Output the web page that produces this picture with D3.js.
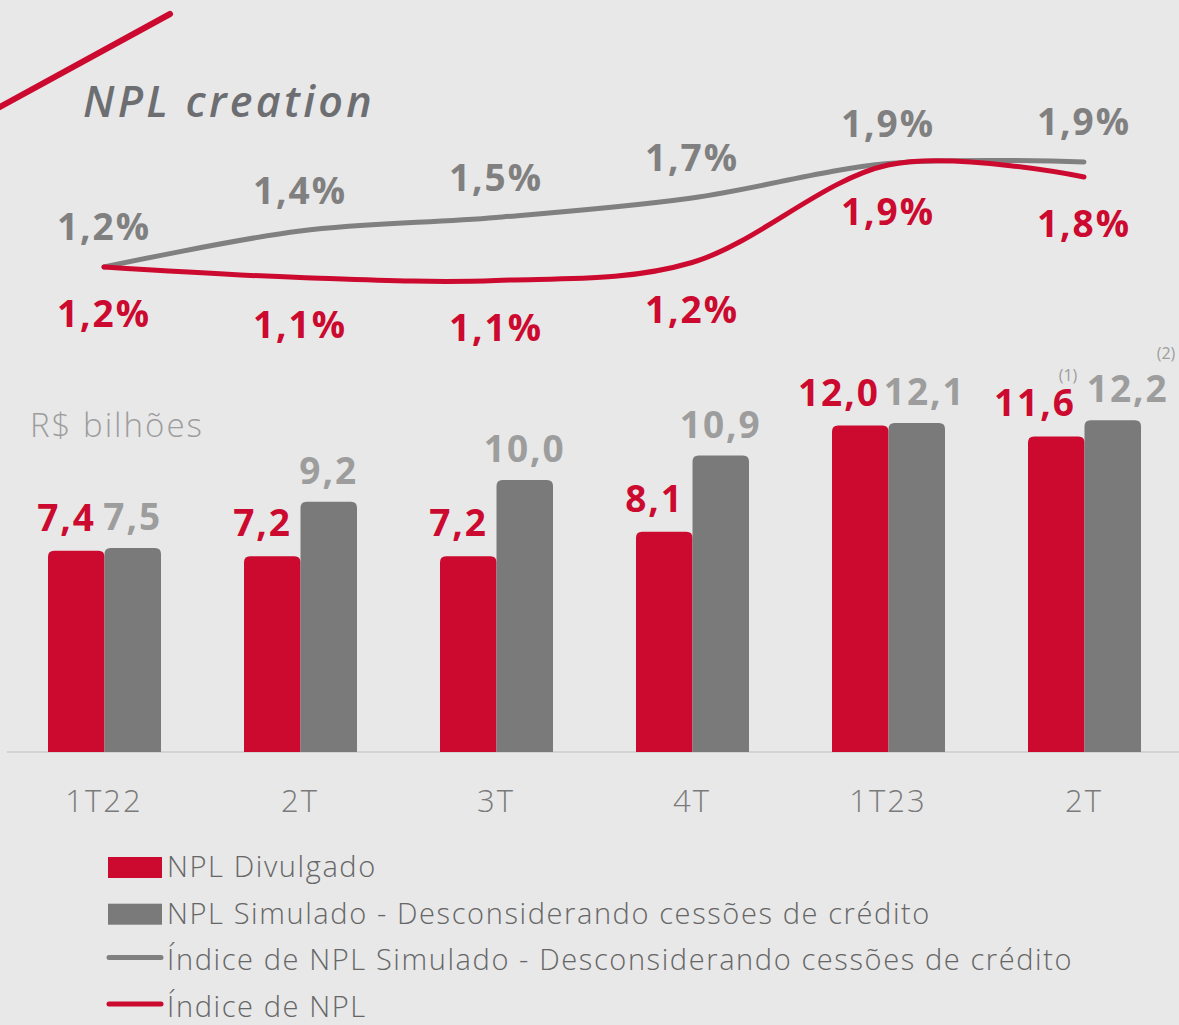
<!DOCTYPE html>
<html>
<head>
<meta charset="utf-8">
<script src="https://cdn.jsdelivr.net/npm/d3@7"></script>
<style>
  body { margin: 0; background: #e8e8e8; }
  svg { display: block; font-family: "Open Sans", sans-serif; }
</style>
</head>
<body>
<svg width="1179" height="1025"></svg>
<script>
// quarters on the x axis
var quarters = ["1T22", "2T", "3T", "4T", "1T23", "2T "];
var quarterLabels = ["1T22", "2T", "3T", "4T", "1T23", "2T"];

// bars, R$ bilhoes
var nplDivulgado = [7.4, 7.2, 7.2, 8.1, 12.0, 11.6];
var nplSimulado = [7.5, 9.2, 10.0, 10.9, 12.1, 12.2];

// ratio lines, % (labels are rounded)
var indiceSimulado = [1.20, 1.44, 1.53, 1.66, 1.89, 1.90];
var indiceNpl = [1.20, 1.13, 1.11, 1.23, 1.88, 1.80];

var red = "#cc0a2f",
    barGray = "#7a7a7a",
    lineGray = "#808080",
    labelGray = "#9d9d9d";

var svg = d3.select("svg");
var fmt = function(v, d) { return v.toFixed(d).replace(".", ","); };

// scales
var x = d3.scaleBand().domain(quarters).range([6, 1182]).padding(0);
var xSub = d3.scaleBand().domain(["div", "sim"]).range([-56, 57]).padding(0);
var yBar = d3.scaleLinear().domain([0, 12]).range([752, 425.6]);
var yLine = d3.scaleLinear().domain([0.5, 2.5]).range([372, 72]);
var cx = function(q) { return x(q) + x.bandwidth() / 2; };

// decoration + title
svg.append("line")
  .attr("x1", -4).attr("y1", 109).attr("x2", 170).attr("y2", 14)
  .attr("stroke", red).attr("stroke-width", 6).attr("stroke-linecap", "round");

svg.append("text")
  .attr("x", 83).attr("y", 117)
  .attr("font-size", 43).attr("font-style", "italic").attr("font-weight", 600)
  .attr("letter-spacing", 3.3)
  .attr("fill", "#6d6e71")
  .text("NPL creation");

// baseline
svg.append("line")
  .attr("x1", 7).attr("x2", 1179).attr("y1", 752).attr("y2", 752)
  .attr("stroke", "#d3d3d3").attr("stroke-width", 2);

// bars with rounded tops
function topRounded(x0, y0, w, h, r) {
  return "M" + x0 + "," + (y0 + h) +
    "V" + (y0 + r) +
    "Q" + x0 + "," + y0 + " " + (x0 + r) + "," + y0 +
    "H" + (x0 + w - r) +
    "Q" + (x0 + w) + "," + y0 + " " + (x0 + w) + "," + (y0 + r) +
    "V" + (y0 + h) + "Z";
}

var barData = [];
quarters.forEach(function(q, i) {
  barData.push({q: q, i: i, key: "div", v: nplDivulgado[i]});
  barData.push({q: q, i: i, key: "sim", v: nplSimulado[i]});
});

svg.append("g").selectAll("path")
  .data(barData).enter().append("path")
  .attr("d", function(d) {
    return topRounded(cx(d.q) + xSub(d.key), yBar(d.v), xSub.bandwidth(), yBar(0) - yBar(d.v), 6);
  })
  .attr("fill", function(d) { return d.key == "div" ? red : barGray; });

// bar labels (last two gray labels nudged right, as in the source)
var simNudge = [0, 0, 0, 0, 8, 15];
svg.append("g").selectAll("text")
  .data(barData).enter().append("text")
  .attr("x", function(d) {
    return d.key == "div" ? cx(d.q) - 8
      : cx(d.q) + xSub("sim") + xSub.bandwidth() / 2 + simNudge[d.i];
  })
  .attr("y", function(d) { return yBar(d.v) - (d.key == "div" ? 20 : 18); })
  .attr("text-anchor", function(d) { return d.key == "div" ? "end" : "middle"; })
  .attr("font-size", 37).attr("font-weight", 700).attr("letter-spacing", 2)
  .attr("fill", function(d) { return d.key == "div" ? red : labelGray; })
  .text(function(d) { return fmt(d.v, 1); });

// footnote marks
svg.append("text").attr("x", 1068).attr("y", 381).attr("text-anchor", "middle")
  .attr("font-size", 16).attr("fill", labelGray).text("(1)");
svg.append("text").attr("x", 1166).attr("y", 359).attr("text-anchor", "middle")
  .attr("font-size", 16).attr("fill", labelGray).text("(2)");

svg.append("text")
  .attr("x", 30).attr("y", 437)
  .attr("font-size", 33).attr("font-weight", 300).attr("letter-spacing", 2)
  .attr("fill", labelGray)
  .text("R$ bilhões");

// x axis labels
svg.append("g").selectAll("text")
  .data(quarters).enter().append("text")
  .attr("x", cx).attr("y", 812)
  .attr("text-anchor", "middle")
  .attr("font-size", 31).attr("font-weight", 300).attr("letter-spacing", 2)
  .attr("fill", "#7a7a7a")
  .text(function(d, i) { return quarterLabels[i]; });

// lines
var line = d3.line()
  .x(function(d, i) { return cx(quarters[i]); })
  .y(function(d) { return yLine(d); })
  .curve(d3.curveCardinal.tension(0));

svg.append("path").attr("d", line(indiceSimulado))
  .attr("fill", "none").attr("stroke", lineGray).attr("stroke-width", 5)
  .attr("stroke-linecap", "round");
svg.append("path").attr("d", line(indiceNpl))
  .attr("fill", "none").attr("stroke", red).attr("stroke-width", 5)
  .attr("stroke-linecap", "round");

svg.append("g").selectAll("text")
  .data(indiceSimulado).enter().append("text")
  .attr("x", function(d, i) { return cx(quarters[i]); })
  .attr("y", function(d) { return yLine(d) - 27; })
  .attr("text-anchor", "middle")
  .attr("font-size", 37).attr("font-weight", 700).attr("letter-spacing", 2)
  .attr("fill", lineGray)
  .text(function(d) { return fmt(d, 1) + "%"; });

svg.append("g").selectAll("text")
  .data(indiceNpl).enter().append("text")
  .attr("x", function(d, i) { return cx(quarters[i]); })
  .attr("y", function(d) { return yLine(d) + 60; })
  .attr("text-anchor", "middle")
  .attr("font-size", 37).attr("font-weight", 700).attr("letter-spacing", 2)
  .attr("fill", red)
  .text(function(d) { return fmt(d, 1) + "%"; });

// legend
var legendItems = [
  {label: "NPL Divulgado", type: "rect", color: red},
  {label: "NPL Simulado - Desconsiderando cessões de crédito", type: "rect", color: barGray},
  {label: "Índice de NPL Simulado - Desconsiderando cessões de crédito", type: "line", color: lineGray},
  {label: "Índice de NPL", type: "line", color: red}
];

var lg = svg.append("g").selectAll("g")
  .data(legendItems).enter().append("g")
  .attr("transform", function(d, i) { return "translate(108," + (867 + i * 46.7) + ")"; });

lg.filter(function(d) { return d.type == "rect"; }).append("rect")
  .attr("x", 0).attr("y", -10).attr("width", 54).attr("height", 21)
  .attr("fill", function(d) { return d.color; });
lg.filter(function(d) { return d.type == "line"; }).append("line")
  .attr("x1", 1).attr("x2", 53).attr("y1", -3).attr("y2", -3)
  .attr("stroke", function(d) { return d.color; })
  .attr("stroke-width", 5).attr("stroke-linecap", "round");

lg.append("text")
  .attr("x", 59).attr("y", 10)
  .attr("font-size", 29).attr("font-weight", 300).attr("letter-spacing", 1.6)
  .attr("fill", "#666")
  .text(function(d) { return d.label; });
</script>
</body>
</html>
